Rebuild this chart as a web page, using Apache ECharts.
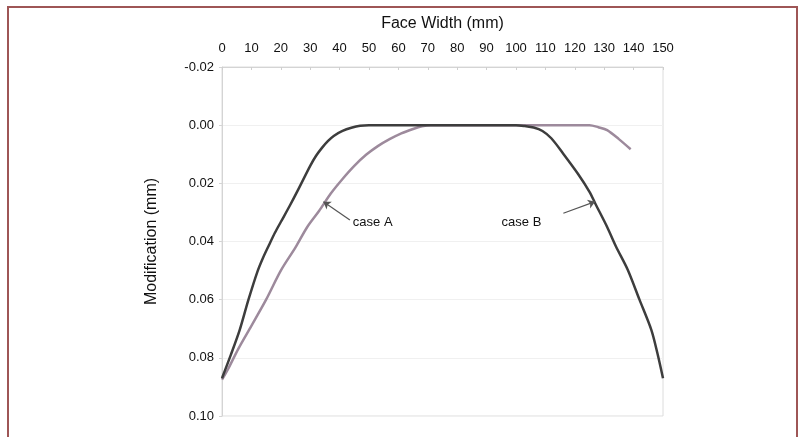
<!DOCTYPE html>
<html>
<head>
<meta charset="utf-8">
<script src="https://cdn.jsdelivr.net/npm/echarts@6/dist/echarts.min.js"></script>
<style>
  html, body { margin: 0; padding: 0; background: #fff; }
  #chart { width: 806px; height: 437px; }
</style>
</head>
<body>
<div id="chart"></div>
<script>
// Face width positions (mm) and tip/end relief (mm) for the two profiles
const caseAWidth = [0, 2, 5.5, 10, 15, 20, 25, 29, 33, 37, 41, 45, 49, 53, 57, 61, 65, 68, 71, 80, 90, 100, 110, 120, 125, 128, 131, 135, 139];
const caseAMod   = [0.0875, 0.084, 0.077, 0.069, 0.060, 0.050, 0.042, 0.035, 0.0295, 0.0235, 0.0185, 0.014, 0.0102, 0.0072, 0.0048, 0.0028, 0.0013, 0.0004, 0, 0, 0, 0, 0, 0, 0, 0.0007, 0.0017, 0.0048, 0.0083];

const caseBWidth = [0, 3, 6, 9, 12, 14, 16, 18, 20, 23, 26, 30, 32, 34, 36, 38, 41, 44, 47, 50, 60, 70, 80, 90, 100, 103, 106, 109, 112, 116, 121, 125, 127, 131, 134, 138, 142, 146, 148, 150];
const caseBMod   = [0.087, 0.079, 0.0705, 0.060, 0.0505, 0.0455, 0.0412, 0.037, 0.0333, 0.0278, 0.022, 0.014, 0.0105, 0.0078, 0.0055, 0.0037, 0.002, 0.0009, 0.0002, 0, 0, 0, 0, 0, 0, 0.0003, 0.0008, 0.002, 0.0045, 0.0097, 0.0166, 0.0229, 0.027, 0.035, 0.0417, 0.0497, 0.060, 0.0703, 0.078, 0.087];

// Axis ranges
const xMin = 0, xMax = 150, xStep = 10;
const yMin = -0.02, yMax = 0.10, yStep = 0.02;

// Callout arrows: [tail, head] in data units, plus label anchors
const arrowA = [[43.5, 0.0326], [34.5, 0.0263]];
const arrowB = [[116.1, 0.0303], [126.9, 0.0263]];
const labelA = [44.5, 0.0335];
const labelB = [95.1, 0.0335];

const pair = (xs, ys) => xs.map((x, i) => [x, ys[i]]);

const chart = echarts.init(document.getElementById('chart'), null, { renderer: 'canvas' });

const textFont = 'Liberation Sans, Arial, Helvetica, sans-serif';

chart.setOption({
  backgroundColor: '#ffffff',
  animation: false,
  textStyle: { fontFamily: textFont },
  graphic: [{
    type: 'rect',
    shape: { x: 8, y: 7, width: 789, height: 450 },
    style: { fill: 'none', stroke: '#9e5656', lineWidth: 2 },
    silent: true
  }],
  grid: {
    left: 222, right: 143, top: 67, bottom: 21,
    show: true, borderColor: '#dcdcdc', borderWidth: 1, backgroundColor: 'transparent'
  },
  xAxis: {
    type: 'value',
    position: 'top',
    min: xMin, max: xMax, interval: xStep,
    name: 'Face Width (mm)',
    nameLocation: 'middle',
    nameGap: 35,
    nameTextStyle: { fontSize: 16, color: '#111', fontFamily: textFont },
    axisLine: { show: true, onZero: false, lineStyle: { color: '#d4d4d4', width: 1 } },
    axisTick: { show: true, inside: true, length: 3, lineStyle: { color: '#cfcfcf' } },
    axisLabel: { fontSize: 13, color: '#111', margin: 12, fontFamily: textFont },
    splitLine: { show: false }
  },
  yAxis: {
    type: 'value',
    inverse: true,
    min: yMin, max: yMax, interval: yStep,
    name: 'Modification (mm)',
    nameLocation: 'middle',
    nameGap: 62,
    nameTextStyle: { fontSize: 16, color: '#111', fontFamily: textFont },
    axisLine: { show: true, onZero: false, lineStyle: { color: '#d4d4d4', width: 1 } },
    axisTick: { show: true, length: 3, lineStyle: { color: '#d4d4d4' } },
    axisLabel: {
      fontSize: 13, color: '#111', margin: 8, fontFamily: textFont,
      formatter: v => v.toFixed(2)
    },
    splitLine: { show: true, lineStyle: { color: '#f0f0f0', width: 1 } }
  },
  series: [
    {
      name: 'case A',
      type: 'line',
      data: pair(caseAWidth, caseAMod),
      smooth: 0.3,
      showSymbol: false,
      z: 2,
      lineStyle: { color: '#9d8a9c', width: 2.5 },
      markLine: {
        silent: true,
        symbol: ['none', 'arrow'],
        symbolSize: 7,
        label: { show: false },
        lineStyle: { color: '#555', width: 1.2, type: 'solid' },
        data: [[{ coord: arrowA[0] }, { coord: arrowA[1] }]]
      },
      markPoint: {
        silent: true,
        symbol: 'circle',
        symbolSize: 0,
        label: {
          show: true, position: 'right', distance: 0,
          fontSize: 13, color: '#111', fontFamily: textFont,
          formatter: 'case A'
        },
        data: [{ coord: labelA }]
      }
    },
    {
      name: 'case B',
      type: 'line',
      data: pair(caseBWidth, caseBMod),
      smooth: 0.3,
      showSymbol: false,
      z: 3,
      lineStyle: { color: '#3d3d3d', width: 2.5 },
      markLine: {
        silent: true,
        symbol: ['none', 'arrow'],
        symbolSize: 7,
        label: { show: false },
        lineStyle: { color: '#555', width: 1.2, type: 'solid' },
        data: [[{ coord: arrowB[0] }, { coord: arrowB[1] }]]
      },
      markPoint: {
        silent: true,
        symbol: 'circle',
        symbolSize: 0,
        label: {
          show: true, position: 'right', distance: 0,
          fontSize: 13, color: '#111', fontFamily: textFont,
          formatter: 'case B'
        },
        data: [{ coord: labelB }]
      }
    }
  ]
});
</script>
</body>
</html>
